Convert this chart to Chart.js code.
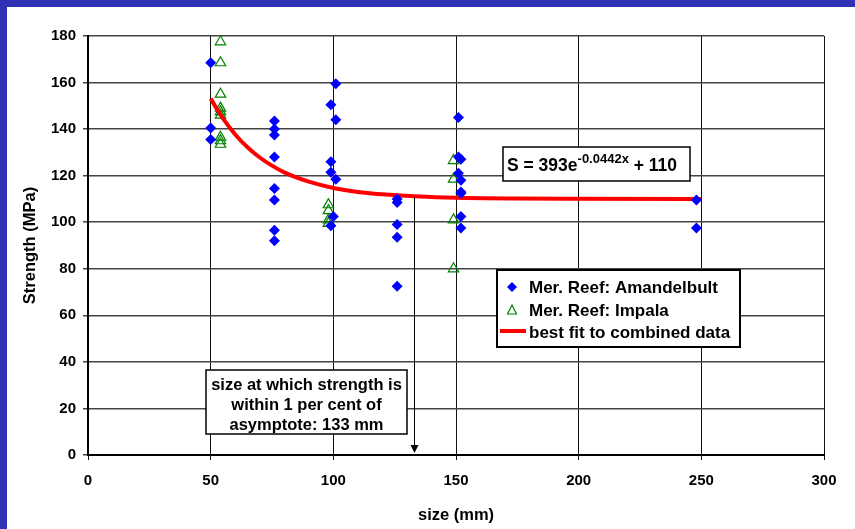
<!DOCTYPE html>
<html>
<head>
<meta charset="utf-8">
<script src="https://cdn.jsdelivr.net/npm/chart.js@4.4.0/dist/chart.umd.min.js"></script>
<style>
  html, body { margin: 0; padding: 0; background: #3131b5; width: 855px; height: 529px; overflow: hidden; }
  #wrap { position: absolute; left: 7px; top: 7px; width: 848px; height: 522px; background: #fff; }
</style>
</head>
<body>
<div id="wrap"><canvas id="strengthChart"></canvas></div>
<script>
// Mer. Reef: Amandelbult (blue diamonds)
const amandelbultX = [50, 50, 50, 76, 76, 76, 76, 76, 76, 76, 76, 101, 99, 101, 99, 99, 101, 100, 99, 126, 126, 126, 126, 126, 151, 151, 152, 151, 152, 152, 152, 152, 152, 248, 248];
const amandelbultY = [168.5, 140.5, 135.5, 143.5, 140, 137.5, 128, 114.5, 109.5, 96.5, 92, 159.5, 150.5, 144, 126, 121.5, 118.5, 102.5, 98.5, 110, 108.5, 99, 93.5, 72.5, 145, 128, 127, 121, 118, 113, 112.5, 102.5, 97.5, 109.5, 97.5];

// Mer. Reef: Impala (green open triangles)
const impalaX = [54, 54, 54, 54, 54, 54, 54, 54, 54, 98, 98, 98, 98, 149, 149, 149, 149];
const impalaY = [177.5, 168.5, 155, 149, 147.5, 146, 136.5, 135, 133.5, 107.5, 105, 101, 99.5, 126.5, 118.5, 101, 80];

// best fit to combined data
const fitX = [50, 55, 60, 65, 70, 75, 80, 90, 100, 110, 120, 135, 150, 175, 200, 250];
const fitY = [153.1, 144.6, 137.7, 132.2, 127.8, 124.3, 121.4, 117.4, 114.7, 113.0, 112.0, 111.0, 110.5, 110.2, 110.1, 110.0];

const xTicks = [0, 50, 100, 150, 200, 250, 300];
const yTicks = [0, 20, 40, 60, 80, 100, 120, 140, 160, 180];

const legendLabels = ['Mer. Reef: Amandelbult', 'Mer. Reef: Impala', 'best fit to combined data'];
const noteLines = ['size at which strength is', 'within 1 per cent of', 'asymptote: 133 mm'];
const asymptoteSize = 133;

const FONT = "'Liberation Sans', Arial, sans-serif";

function toPoints(xs, ys) {
    return xs.map((v, i) => ({ x: v, y: ys[i] }));
}

// Boxes, legend and arrow drawn on top of the plot
const overlay = {
    id: 'overlay',
    afterDatasetsDraw(chart) {
        const { ctx, scales: { x, y } } = chart;
        ctx.save();

        // arrow at 133 mm
        const ax = Math.round(x.getPixelForValue(asymptoteSize)) + 0.5;
        const ay0 = y.getPixelForValue(110.8);
        const ay1 = y.getPixelForValue(0) - 2;
        ctx.strokeStyle = '#000';
        ctx.lineWidth = 1;
        ctx.beginPath();
        ctx.moveTo(ax, ay0);
        ctx.lineTo(ax, ay1 - 6);
        ctx.stroke();
        ctx.fillStyle = '#000';
        ctx.beginPath();
        ctx.moveTo(ax - 4, ay1 - 8);
        ctx.lineTo(ax + 4, ay1 - 8);
        ctx.lineTo(ax, ay1);
        ctx.closePath();
        ctx.fill();

        // equation box
        ctx.fillStyle = '#fff';
        ctx.fillRect(496, 140, 187, 34);
        ctx.lineWidth = 1.5;
        ctx.strokeRect(496, 140, 187, 34);
        ctx.fillStyle = '#000';
        ctx.textBaseline = 'alphabetic';
        ctx.textAlign = 'left';
        ctx.font = 'bold 17.5px ' + FONT;
        let tx = 500;
        const base = 164;
        ctx.fillText('S = 393e', tx, base);
        tx += ctx.measureText('S = 393e').width;
        ctx.font = 'bold 13px ' + FONT;
        ctx.fillText('-0.0442x', tx, base - 8);
        tx += ctx.measureText('-0.0442x').width;
        ctx.font = 'bold 17.5px ' + FONT;
        ctx.fillText(' + 110', tx, base);

        // legend box
        ctx.fillStyle = '#fff';
        ctx.fillRect(490, 263, 243, 77);
        ctx.lineWidth = 2;
        ctx.strokeStyle = '#000';
        ctx.strokeRect(490, 263, 243, 77);
        const rows = [280, 303, 325];
        // diamond
        ctx.fillStyle = '#0000ff';
        ctx.beginPath();
        ctx.moveTo(505, rows[0] - 5);
        ctx.lineTo(510, rows[0]);
        ctx.lineTo(505, rows[0] + 5);
        ctx.lineTo(500, rows[0]);
        ctx.closePath();
        ctx.fill();
        // triangle
        ctx.strokeStyle = '#008000';
        ctx.lineWidth = 1.2;
        ctx.beginPath();
        ctx.moveTo(505, rows[1] - 5);
        ctx.lineTo(509.5, rows[1] + 4);
        ctx.lineTo(500.5, rows[1] + 4);
        ctx.closePath();
        ctx.stroke();
        // red line
        ctx.strokeStyle = '#ff0000';
        ctx.lineWidth = 4;
        ctx.beginPath();
        ctx.moveTo(493, rows[2] - 1);
        ctx.lineTo(519, rows[2] - 1);
        ctx.stroke();
        ctx.fillStyle = '#000';
        ctx.font = 'bold 17px ' + FONT;
        ctx.textBaseline = 'middle';
        legendLabels.forEach((t, i) => ctx.fillText(t, 522, rows[i] + 1));

        // note box
        ctx.fillStyle = '#fff';
        ctx.fillRect(199, 363, 201, 64);
        ctx.strokeStyle = '#000';
        ctx.lineWidth = 1.5;
        ctx.strokeRect(199, 363, 201, 64);
        ctx.fillStyle = '#000';
        ctx.font = 'bold 16.5px ' + FONT;
        ctx.textAlign = 'center';
        noteLines.forEach((t, i) => ctx.fillText(t, 299.5, 378 + i * 20));

        ctx.restore();
    }
};

new Chart(document.getElementById('strengthChart'), {
    type: 'scatter',
    data: {
        datasets: [
            {
                label: legendLabels[0],
                data: toPoints(amandelbultX, amandelbultY),
                pointStyle: 'rectRot',
                pointRadius: 5.5,
                backgroundColor: '#0000ff',
                borderColor: '#0000ff',
                borderWidth: 0,
                order: 0
            },
            {
                label: legendLabels[2],
                data: toPoints(fitX, fitY),
                showLine: true,
                cubicInterpolationMode: 'monotone',
                pointRadius: 0,
                borderColor: '#ff0000',
                borderWidth: 4,
                order: 1
            },
            {
                label: legendLabels[1],
                data: toPoints(impalaX, impalaY),
                pointStyle: 'triangle',
                pointRadius: 6,
                backgroundColor: 'rgba(0,0,0,0)',
                borderColor: '#008000',
                borderWidth: 1.2,
                order: 2
            }
        ]
    },
    options: {
        responsive: true,
        maintainAspectRatio: false,
        animation: false,
        layout: { padding: { left: 0, top: 29, right: 31, bottom: 0 } },
        plugins: {
            legend: { display: false },
            tooltip: { enabled: false }
        },
        scales: {
            x: {
                type: 'linear',
                min: 0,
                max: 300,
                afterBuildTicks: s => { s.ticks = xTicks.map(v => ({ value: v })); },
                afterFit: s => { s.height = 74; },
                grid: { color: '#111', lineWidth: 1, tickLength: 5 },
                border: { color: '#000', width: 2 },
                ticks: { color: '#000', padding: 12, font: { family: FONT, size: 15, weight: 'bold' } },
                title: { display: true, text: 'size (mm)', color: '#000', padding: { top: 0, bottom: 4 }, font: { family: FONT, size: 16.5, weight: 'bold' } }
            },
            y: {
                min: 0,
                max: 180,
                afterBuildTicks: s => { s.ticks = yTicks.map(v => ({ value: v })); },
                afterFit: s => { s.width = 81; },
                grid: { color: '#444', lineWidth: 1.5, tickLength: 5 },
                border: { color: '#000', width: 2 },
                ticks: { color: '#000', padding: 7, font: { family: FONT, size: 15, weight: 'bold' } },
                title: { display: true, text: 'Strength (MPa)', color: '#000', padding: { top: 14, bottom: 0 }, font: { family: FONT, size: 16.5, weight: 'bold' } }
            }
        }
    },
    plugins: [overlay]
});
</script>
</body>
</html>
